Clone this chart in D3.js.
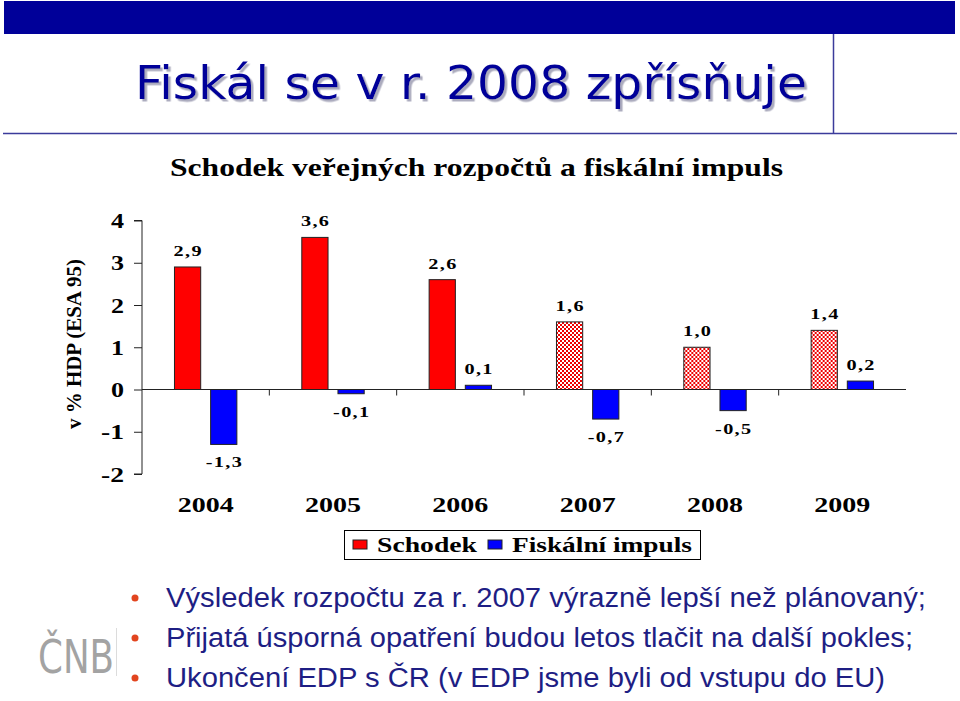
<!DOCTYPE html>
<html><head><meta charset="utf-8">
<script src="https://cdn.jsdelivr.net/npm/d3@7"></script>
<style>body{margin:0;background:#fff;}svg{display:block;}</style>
</head><body>
<script>
// ---- data ----
const years = ["2004","2005","2006","2007","2008","2009"];
const series = ["Schodek","Fiskální impuls"];
const deficit = [2.9, 3.6, 2.6, 1.6, 1.0, 1.4];
const impulse = [-1.3, -0.1, 0.1, -0.7, -0.5, 0.2];
const estimatedYears = ["2007","2008","2009"];
const yTicks = [4, 3, 2, 1, 0, -1, -2];
const slideTitle = "Fiskál se v r. 2008 zpřísňuje";
const chartTitle = "Schodek veřejných rozpočtů a fiskální impuls";
const yTitle = "v % HDP (ESA 95)";
const bullets = [
  "Výsledek rozpočtu za r. 2007 výrazně lepší než plánovaný;",
  "Přijatá úsporná opatření budou letos tlačit na další pokles;",
  "Ukončení EDP s ČR (v EDP jsme byli od vstupu do EU)"
];

const W = 960, H = 701;
const svg = d3.select("body").append("svg").attr("width", W).attr("height", H);
const defs = svg.append("defs");
const pat = defs.append("pattern").attr("id","chk").attr("patternUnits","userSpaceOnUse")
  .attr("width",4).attr("height",4);
pat.append("rect").attr("width",4).attr("height",4).attr("fill","#ffffff");
pat.append("rect").attr("width",2).attr("height",2).attr("fill","#ee0000");
pat.append("rect").attr("x",2).attr("y",2).attr("width",2).attr("height",2).attr("fill","#ee0000");
const flt = defs.append("filter").attr("id","shadow").attr("x","-5%").attr("y","-20%").attr("width","110%").attr("height","140%");
flt.append("feDropShadow").attr("dx",2.5).attr("dy",2.5).attr("stdDeviation",0.6)
  .attr("flood-color","#9090a8").attr("flood-opacity",0.75);

// ---- slide frame ----
svg.append("rect").attr("x",4).attr("y",1).attr("width",951).attr("height",33).attr("fill","#000099");
svg.append("line").attr("x1",3).attr("x2",957).attr("y1",133.5).attr("y2",133.5).attr("stroke","#3b3b9b").attr("stroke-width",1.5);
svg.append("line").attr("x1",833.5).attr("x2",833.5).attr("y1",34).attr("y2",133).attr("stroke","#3b3b9b").attr("stroke-width",1.5);

// slide title (drop shadow via filter)
svg.append("text").attr("x",135).attr("y",99)
  .attr("font-family","'DejaVu Sans Condensed','DejaVu Sans', Verdana, sans-serif").attr("font-size",47)
  .attr("textLength",672).attr("lengthAdjust","spacingAndGlyphs")
  .attr("fill","#000099").attr("filter","url(#shadow)").text(slideTitle);

// chart title
svg.append("text").attr("x",170).attr("y",176)
  .attr("font-family","'Liberation Serif','Times New Roman',serif").attr("font-weight","bold")
  .attr("font-size",25).attr("textLength",613).attr("lengthAdjust","spacingAndGlyphs")
  .attr("fill","#000").text(chartTitle);

// ---- chart ----
const serif = "'Liberation Serif','Times New Roman',serif";
const x0 = d3.scaleBand().domain(years).range([142, 906]).padding(0);
const x1 = d3.scaleBand().domain(series)
  .range([x0.bandwidth()*0.255, x0.bandwidth()*0.745]).paddingInner(0.275);
const y = d3.scaleLinear().domain([-2, 4]).range([474, 220.5]);

const g = svg.append("g");

// y axis
const yAxis = d3.axisLeft(y).tickValues(yTicks).tickSize(8).tickFormat("");
const ya = g.append("g").attr("transform","translate(142,0)").call(yAxis);
ya.selectAll("path,line").attr("stroke","#222").attr("stroke-width",1);
ya.select(".domain").attr("d", `M-8,${y(4)}H0V${y(-2)}H-8`);
g.selectAll(".ytl").data(yTicks).join("text").attr("class","ytl")
  .attr("x",124).attr("y",d=>y(d)+7.5).attr("text-anchor","end")
  .attr("font-family",serif).attr("font-weight","bold").attr("font-size",21)
  .attr("textLength",d=>d<0?23:13).attr("lengthAdjust","spacingAndGlyphs")
  .text(d=>d);

// y title
g.append("text").attr("transform",`translate(81,344) rotate(-90)`).attr("text-anchor","middle")
  .attr("font-family",serif).attr("font-weight","bold").attr("font-size",20)
  .attr("textLength",170).attr("lengthAdjust","spacingAndGlyphs").text(yTitle);

// bars
const rows = years.map((yr,i)=>({yr, vals:[
  {s:series[0], v:deficit[i], yr},
  {s:series[1], v:impulse[i], yr}
]}));
const grp = g.selectAll(".grp").data(rows).join("g").attr("class","grp")
  .attr("transform",d=>`translate(${x0(d.yr)},0)`);
grp.selectAll("rect").data(d=>d.vals).join("rect")
  .attr("x",d=>x1(d.s)).attr("width",x1.bandwidth())
  .attr("y",d=>y(Math.max(0,d.v))).attr("height",d=>Math.abs(y(d.v)-y(0)))
  .attr("fill",d=>d.s===series[0] ? (estimatedYears.includes(d.yr)?"url(#chk)":"#ff0000") : "#0000ff")
  .attr("stroke","#222").attr("stroke-width",1);

// value labels (horizontally stretched like the original)
const fmt = v => d3.format(".1f")(v).replace(".", ",").replace("−","-");
grp.selectAll("text.val").data(d=>d.vals).join("text").attr("class","val")
  .attr("transform",d=>`translate(${x1(d.s)+x1.bandwidth()/2+0.7},${d.v>=0 ? y(d.v)-11 : y(d.v)+23}) scale(1.35,1)`)
  .attr("text-anchor","middle").attr("font-family",serif).attr("font-weight","bold")
  .attr("font-size",15).attr("letter-spacing",1).text(d=>fmt(d.v));

// x axis (zero line) and category ticks
g.append("line").attr("x1",142).attr("x2",906).attr("y1",y(0)).attr("y2",y(0)).attr("stroke","#222");
g.selectAll(".xt").data(years.slice(1)).join("line").attr("class","xt")
  .attr("x1",d=>x0(d)).attr("x2",d=>x0(d)).attr("y1",y(0)).attr("y2",y(0)+6).attr("stroke","#222");
g.selectAll(".xl").data(years).join("text").attr("class","xl")
  .attr("x",d=>x0(d)+x0.bandwidth()/2).attr("y",512).attr("text-anchor","middle")
  .attr("font-family",serif).attr("font-weight","bold").attr("font-size",21)
  .attr("textLength",56).attr("lengthAdjust","spacingAndGlyphs").text(d=>d);

// legend
const lg = g.append("g");
lg.append("rect").attr("x",344.5).attr("y",530.5).attr("width",356).attr("height",29)
  .attr("fill","#fff").attr("stroke","#000").attr("stroke-width",1);
const legItems = [{s:series[0], c:"#ff0000", kx:353, tx:377, tl:100},
                  {s:series[1], c:"#0000ff", kx:488, tx:512, tl:180}];
legItems.forEach(it=>{
  lg.append("rect").attr("x",it.kx).attr("y",540).attr("width",14).attr("height",9)
    .attr("fill",it.c).attr("stroke","#222").attr("stroke-width",1);
  lg.append("text").attr("x",it.tx).attr("y",552).attr("font-family",serif).attr("font-weight","bold")
    .attr("font-size",22).attr("textLength",it.tl).attr("lengthAdjust","spacingAndGlyphs").text(it.s);
});

// ---- bullets ----
const bulletLens = [760, 747, 719];
bullets.forEach((t,i)=>{
  const by = 607 + i*40;
  svg.append("circle").attr("cx",135).attr("cy",by-9).attr("r",3.5).attr("fill","#e2451f");
  svg.append("text").attr("x",166).attr("y",by)
    .attr("font-family","'Liberation Sans', Arial, sans-serif").attr("font-size",27)
    .attr("textLength",bulletLens[i]).attr("lengthAdjust","spacingAndGlyphs")
    .attr("fill","#1e1e84").text(t);
});

// logo
svg.append("text").attr("x",38).attr("y",673)
  .attr("font-family","'Liberation Sans Narrow','DejaVu Sans Condensed',sans-serif").attr("font-size",46)
  .attr("textLength",76).attr("lengthAdjust","spacingAndGlyphs").attr("fill","#a3a3a3").text("ČNB");
svg.append("line").attr("x1",116.5).attr("x2",116.5).attr("y1",628).attr("y2",676).attr("stroke","#dcdcdc");
</script>
</body></html>
